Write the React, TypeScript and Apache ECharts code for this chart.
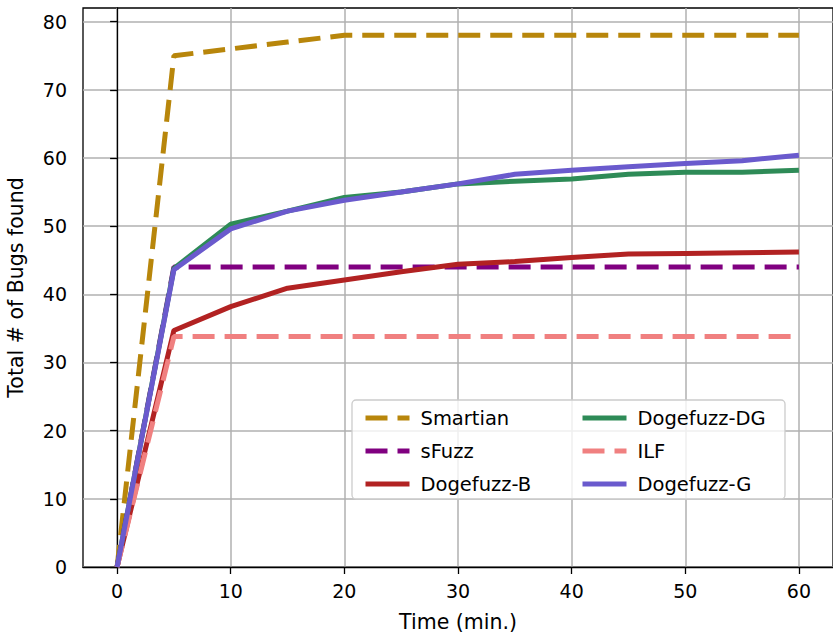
import React, { useEffect, useRef } from "react";
import * as echarts from "echarts";

const timeMin = [0, 5, 10, 15, 20, 25, 30, 35, 40, 45, 50, 55, 60];
const smartian = [0, 75, 76, 77, 78, 78, 78, 78, 78, 78, 78, 78, 78];
const sFuzz = [0, 44, 44, 44, 44, 44, 44, 44, 44, 44, 44, 44, 44];
const dogefuzzB = [0, 34.7, 38.2, 40.9, 42.1, 43.3, 44.4, 44.8, 45.4, 45.9, 46.0, 46.1, 46.2];
const dogefuzzDG = [0, 43.8, 50.3, 52.2, 54.2, 55.0, 56.2, 56.6, 56.9, 57.6, 57.9, 57.9, 58.2];
const ilf = [0, 33.8, 33.8, 33.8, 33.8, 33.8, 33.8, 33.8, 33.8, 33.8, 33.8, 33.8, 33.8];
const dogefuzzG = [0, 43.6, 49.6, 52.2, 53.8, 55.0, 56.2, 57.6, 58.2, 58.7, 59.2, 59.6, 60.4];

const xTicks = [0, 10, 20, 30, 40, 50, 60];
const yTicks = [0, 10, 20, 30, 40, 50, 60, 70, 80];

const seriesDefs = [
  { name: "Smartian", values: smartian, color: "#B8860B", dashed: true },
  { name: "sFuzz", values: sFuzz, color: "#800080", dashed: true },
  { name: "Dogefuzz-B", values: dogefuzzB, color: "#B22222", dashed: false },
  { name: "Dogefuzz-DG", values: dogefuzzDG, color: "#2E8B57", dashed: false },
  { name: "ILF", values: ilf, color: "#F08080", dashed: true },
  { name: "Dogefuzz-G", values: dogefuzzG, color: "#6A5ACD", dashed: false },
];

const FONT = "DejaVu Sans";
const FS = 19;
const FS_NAME = 20.5;

export default function App() {
  const ref = useRef<HTMLDivElement>(null);
  useEffect(() => {
    if (!ref.current) return;
    const chart = echarts.init(ref.current, undefined, { renderer: "svg" });
    const legendCommon = {
      orient: "vertical",
      itemWidth: 44,
      itemHeight: 14,
      itemGap: 13,
      itemStyle: { color: "rgba(0,0,0,0)", borderWidth: 0, opacity: 0 },
      lineStyle: { width: 5, cap: "butt" },
      textStyle: { fontFamily: FONT, fontSize: 19.5, color: "#000", padding: [0, 0, 0, 6] },
      z: 20,
      selectedMode: false,
    };
    chart.setOption({
      animation: false,
      backgroundColor: "#fff",
      textStyle: { fontFamily: FONT },
      grid: {
        left: 83,
        top: 8,
        right: 0,
        bottom: 66,
        show: true,
        borderColor: "#000",
        borderWidth: 1.3,
        containLabel: false,
        outerBoundsMode: "none",
      },
      xAxis: {
        type: "value",
        min: -3,
        max: 63,
        name: "Time (min.)",
        nameLocation: "middle",
        nameGap: 44,
        nameTextStyle: { fontFamily: FONT, fontSize: FS_NAME, color: "#000" },
        axisLine: { show: true, lineStyle: { color: "#000", width: 1.3 } },
        axisTick: { show: true, length: 7, lineStyle: { color: "#000", width: 1.3 }, customValues: xTicks },
        axisLabel: { fontFamily: FONT, fontSize: FS, color: "#000", margin: 14, customValues: xTicks },
        splitLine: { show: true, lineStyle: { color: "#b0b0b0", width: 1.5 } },
      },
      yAxis: {
        type: "value",
        min: 0,
        max: 82,
        name: "Total # of Bugs found",
        nameLocation: "middle",
        nameGap: 57,
        nameTextStyle: { fontFamily: FONT, fontSize: FS_NAME, color: "#000" },
        axisLine: { show: true, lineStyle: { color: "#000", width: 1.3 } },
        axisTick: { show: true, length: 7, lineStyle: { color: "#000", width: 1.3 }, customValues: yTicks },
        axisLabel: { fontFamily: FONT, fontSize: FS, color: "#000", margin: 16, customValues: yTicks },
        splitLine: { show: true, lineStyle: { color: "#b0b0b0", width: 1.5 } },
      },
      legend: [
        { ...legendCommon, left: 358, top: 403, data: seriesDefs.slice(0, 3).map((s) => s.name) },
        { ...legendCommon, left: 575, top: 403, data: seriesDefs.slice(3).map((s) => s.name) },
      ],
      graphic: [
        {
          type: "rect",
          z: 15,
          shape: { x: 352, y: 400, width: 433, height: 99, r: 4 },
          style: { fill: "rgba(255,255,255,0.8)", stroke: "#cccccc", lineWidth: 1.3 },
        },
      ],
      series: seriesDefs.map((s) => ({
        type: "line",
        name: s.name,
        data: timeMin.map((t, i) => [t, s.values[i]]),
        symbol: "none",
        color: s.color,
        lineStyle: {
          color: s.color,
          width: 5,
          type: s.dashed ? [22, 10] : "solid",
          cap: "butt",
        },
        z: 3,
      })),
    });
    return () => chart.dispose();
  }, []);
  return (
    <div
      ref={ref}
      style={{ position: "fixed", left: 0, top: 0, width: 833, height: 633, background: "#fff" }}
    />
  );
}
